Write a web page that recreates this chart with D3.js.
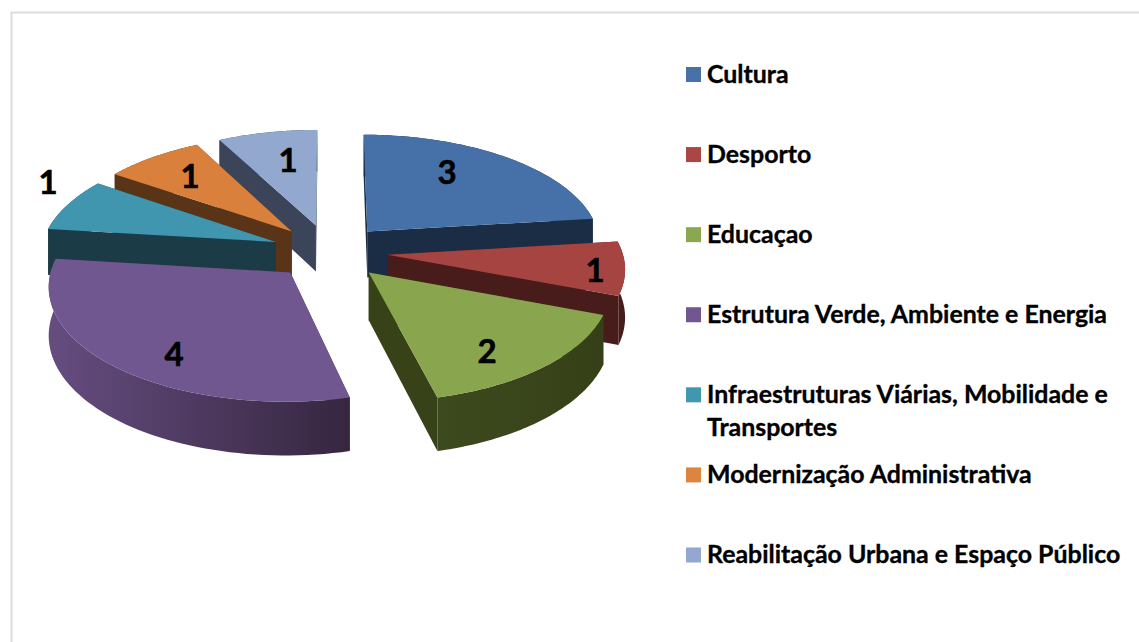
<!DOCTYPE html>
<html><head><meta charset="utf-8">
<style>html,body{margin:0;padding:0;background:#fff;overflow:hidden}svg{display:block}text{font-family:Lato,"Open Sans",sans-serif;font-weight:700;fill:#000;stroke:#000}</style>
<script src="https://cdn.jsdelivr.net/npm/d3@7"></script></head><body>
<svg id="c" width="1139" height="642"></svg>
<script>
const categories=["Cultura","Desporto","Educaçao","Estrutura Verde, Ambiente e Energia","Infraestruturas Viárias, Mobilidade e Transportes","Modernização Administrativa","Reabilitação Urbana e Espaço Público"];
const values=[3,1,2,4,1,1,1];
const topColors=["#4671a8","#a64442","#89a54e","#71578f","#4096ae","#d9813c","#92a8cf"];
const wallColors=["#1b2d45","#481c1a","#384219","#3f2d50","#1b3c46","#5a3417","#3b4459"];
const rimLeft=["#1b2d45","#481c1a","#3d4a1d","#654d80","#1b3c46","#5a3417","#3b4459"];
const rimRight=["#1b2d45","#481c1a","#364018","#36263f","#1b3c46","#5a3417","#3b4459"];
const legendColors=["#4672a8","#aa4644","#8ba850","#71568f","#4098b0","#dd843e","#93a8d0"];
const legendLines=[["Cultura"],["Desporto"],["Educaçao"],["Estrutura Verde, Ambiente e Energia"],["Infraestruturas Viárias, Mobilidade e","Transportes"],["Modernização Administrativa"],["Reabilitação Urbana e Espaço Público"]];
const labelX=[447,595,487,174,48,190,288], labelY=[171,269,350,353,181,175,159];
const drawOrder=[6,0,5,4,1,2,3];

const svg=d3.select("#c"), W=1139,H=642;
svg.append("path").attr("d",`M${W} 12.5H11.5V${H}`).attr("fill","none").attr("stroke","#dcdcdc").attr("stroke-width",2);

const cx=329.5,cy=251.5,R=235,explode=58,k=0.472,persp=0.00045,depth=47;
const pie=d3.pie().sort(null).value(d=>d)(values);
const proj=(u,v,h=0)=>{const s=1/(1+persp*v);return [cx+u*s,cy-k*v*s+h*s];};
const line=d3.line();
const defs=svg.append("defs");
pie.forEach(p=>{p.mid=(p.startAngle+p.endAngle)/2;p.ox=Math.sin(p.mid)*explode;p.oy=Math.cos(p.mid)*explode;});
const pt=(p,a,r,h)=>proj(p.ox+Math.sin(a)*r,p.oy+Math.cos(a)*r,h);
const arcPts=(p,h)=>d3.range(0,61).map(i=>pt(p,p.startAngle+(p.endAngle-p.startAngle)*i/60,R,h));

drawOrder.forEach(i=>{
  const p=pie[i],g=svg.append("g");
  const top=arcPts(p,0),bot=arcPts(p,depth);
  const x0=d3.min(top,d=>d[0]),x1=d3.max(top,d=>d[0]);
  const grad=defs.append("linearGradient").attr("id","r"+i).attr("gradientUnits","userSpaceOnUse").attr("x1",x0).attr("x2",x1).attr("y1",0).attr("y2",0);
  grad.append("stop").attr("offset",0).attr("stop-color",rimLeft[i]);
  grad.append("stop").attr("offset",1).attr("stop-color",rimRight[i]);
  const ap=pt(p,0,0,0),apB=pt(p,0,0,depth);
  [0,60].forEach(j=>g.append("path").attr("d",line([ap,top[j],bot[j],apB])+"Z").attr("fill",wallColors[i]));
  g.append("path").attr("d",line(top.concat(bot.slice().reverse()))+"Z").attr("fill",`url(#r${i})`);
  g.append("path").attr("d",line([ap].concat(top))+"Z").attr("fill",topColors[i]);
});

svg.append("g").selectAll("text").data(values).join("text")
  .attr("x",(d,i)=>labelX[i]).attr("y",(d,i)=>labelY[i]).attr("text-anchor","middle").attr("dominant-baseline","central")
  .attr("font-size",33).attr("stroke-width",0.6).text(d=>d);

const legendY=d3.scalePoint().domain(d3.range(categories.length)).range([74.5,555]);
const lg=svg.append("g").selectAll("g").data(categories).join("g");
lg.append("rect").attr("x",686).attr("y",(d,i)=>legendY(i)-7.5).attr("width",15).attr("height",15).attr("fill",(d,i)=>legendColors[i]);
lg.each(function(d,i){
  legendLines[i].forEach((t,j)=>d3.select(this).append("text").attr("x",707).attr("y",legendY(i)+j*33+8).attr("font-size",24.9).attr("stroke-width",0.35).text(t));
});
</script></body></html>
